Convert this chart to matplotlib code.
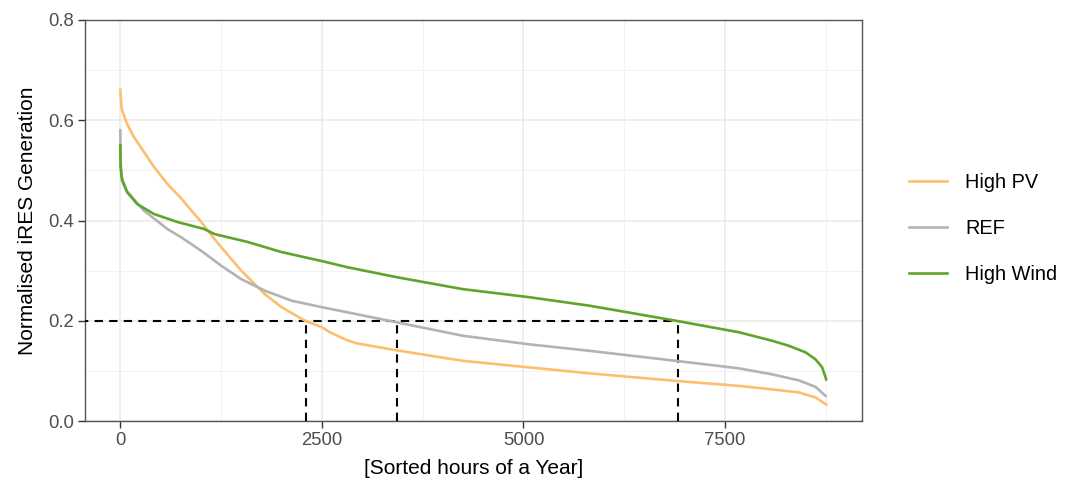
import matplotlib
matplotlib.use("Agg")
from matplotlib import pyplot as plt
from matplotlib.ticker import MultipleLocator

# duration curves (sorted hours, normalised generation)
pv_hours = [0, 10, 21, 83, 167, 292, 417, 583, 750, 917, 1000, 1083, 1250, 1500,
            1792, 2000, 2292, 2500, 2600, 2800, 2930, 3424, 4250, 5070, 5820,
            6890, 7673, 8086, 8416, 8622, 8754]
pv_values = [0.661, 0.635, 0.62, 0.593, 0.567, 0.537, 0.507, 0.473, 0.445, 0.413,
             0.398, 0.38, 0.347, 0.30, 0.253, 0.227, 0.20, 0.187, 0.177, 0.162,
             0.155, 0.141, 0.12, 0.107, 0.095, 0.08, 0.07, 0.063, 0.057, 0.047, 0.033]

ref_hours = [0, 3, 8, 21, 83, 208, 292, 583, 750, 1000, 1250, 1500, 1792, 2125,
             2500, 2810, 3424, 4250, 5070, 5820, 6890, 7673, 8086, 8416, 8622, 8746]
ref_values = [0.58, 0.53, 0.507, 0.485, 0.458, 0.435, 0.42, 0.383, 0.367, 0.34,
              0.31, 0.283, 0.26, 0.24, 0.227, 0.217, 0.197, 0.17, 0.153, 0.14,
              0.12, 0.105, 0.093, 0.081, 0.068, 0.05]

wind_hours = [0, 3, 21, 83, 208, 417, 708, 1042, 1167, 1583, 2000, 2500, 2810,
              3424, 4250, 5070, 5820, 6890, 7673, 8086, 8292, 8498, 8622, 8704, 8754]
wind_values = [0.55, 0.507, 0.48, 0.457, 0.433, 0.413, 0.397, 0.383, 0.373, 0.357,
               0.337, 0.319, 0.307, 0.287, 0.263, 0.247, 0.23, 0.20, 0.177, 0.16,
               0.15, 0.137, 0.123, 0.107, 0.083]

threshold = 0.2
cross_hours = [2300, 3430, 6910]

series_names = ["High PV", "REF", "High Wind"]
series_colors = ["#FDBF6F", "#B3B3B3", "#5FA52A"]

plt.rcParams["font.family"] = ["Liberation Sans", "DejaVu Sans"]

fig = plt.figure(figsize=(10.69, 4.83), dpi=100)
ax = fig.add_axes([85 / 1069, 62 / 483, 777 / 1069, 401 / 483])

# reference lines at 0.2
ax.plot([-500, max(cross_hours)], [threshold, threshold], color="black",
        lw=1.5, linestyle=(0, (4, 3)), zorder=3)
for h in cross_hours:
    ax.plot([h, h], [0, threshold], color="black", lw=1.5,
            linestyle=(0, (4, 3)), zorder=3)

for hrs, vals, name, col in zip([pv_hours, ref_hours, wind_hours],
                                [pv_values, ref_values, wind_values],
                                series_names, series_colors):
    ax.plot(hrs, vals, color=col, lw=1.9, label=name, zorder=4)

ax.set_xlim(-438, 9198)
ax.set_ylim(0, 0.8)
ax.xaxis.set_minor_locator(MultipleLocator(1250))
ax.yaxis.set_minor_locator(MultipleLocator(0.1))
ax.set_yticks([0, 0.2, 0.4, 0.6, 0.8])
ax.set_yticklabels(["0.0", "0.2", "0.4", "0.6", "0.8"])
ax.set_xticks([0, 2500, 5000, 7500])
ax.set_xticklabels(["0", "2500", "5000", "7500"])

ax.grid(which="major", color="#EBEBEB", lw=1.2, zorder=0)
ax.grid(which="minor", color="#F2F2F2", lw=0.7, zorder=0)
ax.set_axisbelow(True)
for sp in ax.spines.values():
    sp.set_color("#555555")
    sp.set_linewidth(1.0)
ax.tick_params(which="major", length=5, width=1.0, color="#333333",
               labelcolor="#4D4D4D", labelsize=13.3, pad=3)
ax.tick_params(which="minor", length=0)

ax.set_xlabel("[Sorted hours of a Year]", fontsize=15, labelpad=7)
ax.set_ylabel("Normalised iRES Generation", fontsize=15, labelpad=8)

fig.legend(loc="center left", bbox_to_anchor=(891 / 1069, 0.527),
           frameon=False, fontsize=14.3, handlelength=1.9, handletextpad=0.95,
           labelspacing=1.35)

fig.savefig("out.png", dpi=100)
